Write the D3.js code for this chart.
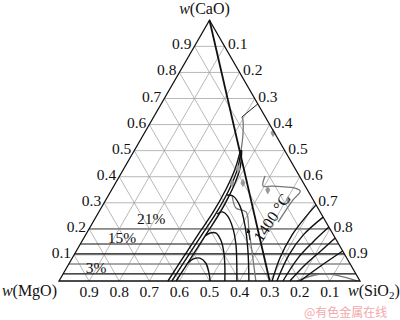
<!DOCTYPE html>
<html lang="zh">
<head>
<meta charset="UTF-8">
<title>CaO-SiO2-MgO</title>
<script src="https://d3js.org/d3.v7.min.js"></script>
<style>
  body { margin: 0; background: #fff; }
  svg text { font-family: "Liberation Serif", "Times New Roman", Times, serif; fill: #111; }
</style>
</head>
<body>
<svg id="chart" width="400" height="320"></svg>
<script>
// all points are [w(CaO), w(SiO2)]; w(MgO) = 1 - the two
const tickVals = [0.1, 0.2, 0.3, 0.4, 0.5, 0.6, 0.7, 0.8, 0.9];

// horizontal cuts (constant CaO)
const cutBlack = [0.027, 0.104, 0.142];
const cutGray = [0.065, 0.2];
const pctLabels = ['3%', '15%', '21%'];
const pctPos = [[0.05, 0.098], [0.165, 0.127], [0.238, 0.187]];

const mainLine = [[1, 0], [0, 0.7]];

const bandA = [[0, 0.362], [0.1, 0.368], [0.19, 0.374], [0.26, 0.38], [0.35, 0.379], [0.43, 0.37], [0.502, 0.352]];
const bandB = [[0, 0.375], [0.1, 0.381], [0.19, 0.387], [0.26, 0.392], [0.35, 0.39], [0.43, 0.378], [0.502, 0.354]];
const bandC = [[0, 0.389], [0.1, 0.395], [0.19, 0.4], [0.26, 0.404], [0.35, 0.4], [0.43, 0.386], [0.502, 0.356]];
const bandTop = [[0.502, 0.354], [0.56, 0.331], [0.618, 0.302], [0.629, 0.293]];
const leader = [[0.629, 0.293], [0.679, 0.321]];

const dome1 = [[0.069, 0.394], [0.084, 0.403], [0.088, 0.424], [0.069, 0.453], [0.035, 0.48], [0, 0.502]];
const dome2 = [[0.173, 0.399], [0.184, 0.41], [0.184, 0.43], [0.157, 0.459], [0.111, 0.492], [0.058, 0.522], [0, 0.551]];
const dome3 = [[0.257, 0.397], [0.265, 0.41], [0.249, 0.436], [0.203, 0.476], [0.138, 0.519], [0.073, 0.554], [0, 0.591]];
const dome4 = [[0.33, 0.393], [0.326, 0.415], [0.288, 0.457], [0.215, 0.51], [0.119, 0.568], [0, 0.631]];

const iso1 = [[0, 0.708], [0.088, 0.69], [0.176, 0.686], [0.242, 0.696], [0.292, 0.708]];
const iso2 = [[0, 0.724], [0.1, 0.714], [0.176, 0.723], [0.245, 0.755]];
const iso3 = [[0, 0.744], [0.088, 0.75], [0.15, 0.769], [0.207, 0.793]];
const iso4 = [[0, 0.767], [0.065, 0.788], [0.119, 0.814], [0.165, 0.835]];
const iso5 = [[0, 0.801], [0.05, 0.835], [0.115, 0.885]];

const grayLoop = [[0.403, 0.483], [0.364, 0.496], [0.364, 0.526], [0.361, 0.568], [0.357, 0.603], [0.345, 0.629], [0.311, 0.622], [0.272, 0.618], [0.226, 0.615]];
const grayInner = [[0.33, 0.41], [0.28, 0.448], [0.265, 0.489], [0.196, 0.533], [0.119, 0.581], [0, 0.654]];
const grayBase = [[0, 0.79], [0.023, 0.839], [0.027, 0.877], [0.019, 0.924], [0, 0.993]];

const markers = [[0.568, 0.427], [0.349, 0.519], [0.311, 0.606], [0.43, 0.38], [0.376, 0.387], [0.376, 0.423]];

const arrowLine = [[0.157, 0.556], [0.2, 0.528]];
const isoLabel = '1400 °C';
const isoLabelPos = [0.242, 0.587];

const svg = d3.select('#chart');

const x = d3.scaleLinear().domain([0, 1]).range([59, 360]);
const y = d3.scaleLinear().domain([0, 1]).range([281, 20.3]);
const P = d => [x(d[1] + d[0] / 2), y(d[0])];

const straight = d3.line().x(d => P(d)[0]).y(d => P(d)[1]);
const smooth = d3.line().x(d => P(d)[0]).y(d => P(d)[1]).curve(d3.curveCatmullRom.alpha(0.5));

// grid
const grid = svg.append('g').attr('stroke', '#9a9a9a').attr('stroke-width', 0.7).attr('fill', 'none');
tickVals.forEach(v => {
  grid.append('path').attr('d', straight([[v, 0], [v, 1 - v]]));          // CaO const
  grid.append('path').attr('d', straight([[0, v], [1 - v, v]]));          // SiO2 const
  grid.append('path').attr('d', straight([[0, 1 - v], [1 - v, 0]]));      // MgO const
});

cutGray.forEach(c => {
  svg.append('path').attr('d', straight([[c, 0], [c, 1 - c]]))
    .attr('stroke', '#8a8a8a').attr('stroke-width', 1.6).attr('fill', 'none');
});
cutBlack.forEach(c => {
  svg.append('path').attr('d', straight([[c, 0], [c, 1 - c]]))
    .attr('stroke', '#111').attr('stroke-width', 1.2).attr('fill', 'none');
});

// gray boundaries
[grayLoop, grayInner, grayBase, bandTop].forEach(d => {
  svg.append('path').attr('d', smooth(d))
    .attr('stroke', '#777').attr('stroke-width', 1.3).attr('fill', 'none');
});
svg.append('path').attr('d', straight(leader))
  .attr('stroke', '#222').attr('stroke-width', 1).attr('fill', 'none');

// black curves
[bandA, bandB, bandC, dome1, dome2, dome3, dome4, iso1, iso2, iso3, iso4, iso5].forEach(d => {
  svg.append('path').attr('d', smooth(d))
    .attr('stroke', '#111').attr('stroke-width', 1.4).attr('fill', 'none');
});

svg.append('path').attr('d', straight(mainLine))
  .attr('stroke', '#111').attr('stroke-width', 1.8).attr('fill', 'none');

// markers
svg.selectAll('.mk').data(markers).enter().append('path')
  .attr('class', 'mk')
  .attr('d', d3.symbol().type(d3.symbolDiamond).size(22))
  .attr('transform', d => `translate(${P(d)[0]},${P(d)[1]})`)
  .attr('fill', '#999');

// arrow
svg.append('defs').append('marker')
  .attr('id', 'arr').attr('viewBox', '0 0 10 10').attr('refX', 8).attr('refY', 5)
  .attr('markerWidth', 5).attr('markerHeight', 5).attr('orient', 'auto')
  .append('path').attr('d', 'M0,1L10,5L0,9z').attr('fill', '#111');
svg.append('path').attr('d', straight(arrowLine))
  .attr('stroke', '#111').attr('stroke-width', 1).attr('marker-end', 'url(#arr)');

// triangle
svg.append('path').attr('d', straight([[0, 0], [0, 1], [1, 0], [0, 0]]) + 'Z')
  .attr('stroke', '#111').attr('stroke-width', 1.3).attr('fill', 'none');

// tick labels
const lab = svg.append('g').style('font-size', '15.5px');
tickVals.forEach(v => {
  // CaO on the left edge
  const l = P([v, 0]);
  lab.append('text').attr('x', l[0] - 3).attr('y', l[1] + 3).attr('text-anchor', 'end').text(v.toFixed(1));
  // SiO2 on the right edge
  const r = P([1 - v, v]);
  lab.append('text').attr('x', r[0] + 3.5).attr('y', r[1] + 3).text(v.toFixed(1));
  // MgO on the base
  const b = P([0, 1 - v]);
  lab.append('text').attr('x', b[0]).attr('y', b[1] + 16).attr('text-anchor', 'middle').text(v.toFixed(1));
});

pctLabels.forEach((t, i) => {
  const p = P(pctPos[i]);
  lab.append('text').attr('x', p[0]).attr('y', p[1] + 5).attr('text-anchor', 'middle').text(t);
});

const ip = P(isoLabelPos);
lab.append('text').attr('transform', `translate(${ip[0]},${ip[1]}) rotate(-57)`)
  .attr('text-anchor', 'middle').attr('dy', 5).style('font-size', '16px').text(isoLabel);

// axis titles
const ttl = svg.append('g').style('font-size', '16px');
const apex = P([1, 0]);
const tt = ttl.append('text').attr('x', apex[0] - 5).attr('y', 14).attr('text-anchor', 'middle');
tt.append('tspan').style('font-style', 'italic').text('w');
tt.append('tspan').text('(CaO)');

const bl = P([0, 0]);
const tm = ttl.append('text').attr('x', bl[0] - 2).attr('y', 296).attr('text-anchor', 'end');
tm.append('tspan').style('font-style', 'italic').text('w');
tm.append('tspan').text('(MgO)');

const br = P([0, 1]);
const ts = ttl.append('text').attr('x', br[0] - 12).attr('y', 296);
ts.append('tspan').style('font-style', 'italic').text('w');
ts.append('tspan').text('(SiO');
ts.append('tspan').attr('dy', 3).style('font-size', '11px').text('2');
ts.append('tspan').attr('dy', -3).text(')');

// watermark
svg.append('text').attr('x', 304).attr('y', 317)
  .style('font-family', '"Noto Sans CJK SC", sans-serif').style('font-size', '12px')
  .style('fill', '#f2a9a9').text('@有色金属在线');
</script>
</body>
</html>
